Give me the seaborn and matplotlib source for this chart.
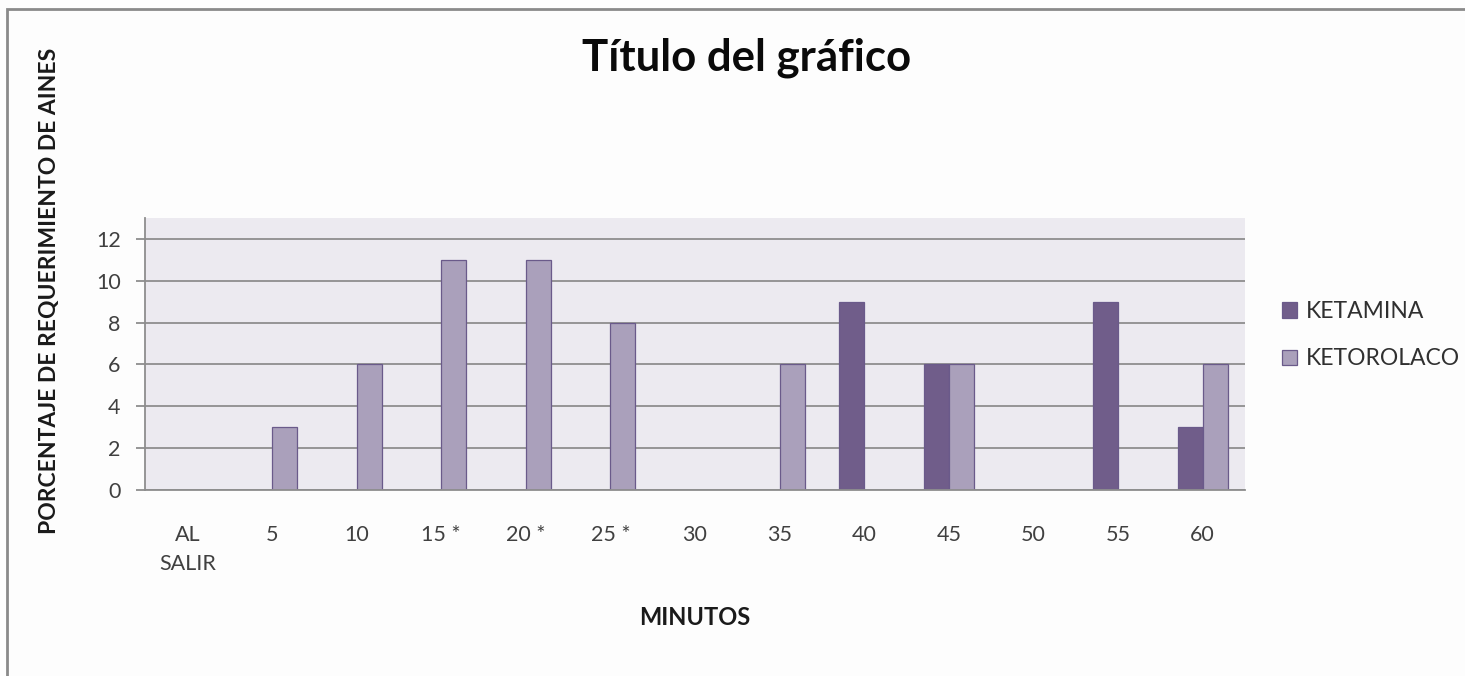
import matplotlib
matplotlib.use("Agg")
import matplotlib.pyplot as plt
from matplotlib.patches import Rectangle
import seaborn as sns
import pandas as pd

# Data
minutos = ["AL\nSALIR", "5", "10", "15 *", "20 *", "25 *", "30", "35",
           "40", "45", "50", "55", "60"]
ketamina = [0, 0, 0, 0, 0, 0, 0, 0, 9, 6, 0, 9, 3]
ketorolaco = [0, 3, 6, 11, 11, 8, 0, 6, 0, 6, 0, 0, 6]
grupos = ["KETAMINA", "KETOROLACO"]
y_ticks = [0, 2, 4, 6, 8, 10, 12]

df = pd.DataFrame({
    "minuto": minutos * 2,
    "valor": ketamina + ketorolaco,
    "grupo": [grupos[0]] * len(minutos) + [grupos[1]] * len(minutos),
})

sns.set_style("white")
plt.rcParams["font.family"] = ["Lato", "DejaVu Sans"]

W, H = 1465, 676
fig = plt.figure(figsize=(W / 100, H / 100), dpi=100, facecolor="#FDFDFD")
ax = fig.add_axes([145 / W, 1 - 490 / H, 1100 / W, 272 / H])
ax.set_facecolor("#ECEAF0")

palette = {"KETAMINA": "#6F5592", "KETOROLACO": "#A99BC0"}
sns.barplot(data=df, x="minuto", y="valor", hue="grupo", order=minutos,
            hue_order=grupos, palette=palette, width=0.59,
            edgecolor="#6A5A8A", linewidth=0.9, ax=ax, zorder=2)

ax.set_ylim(0, 13)
ax.set_xlim(-0.5, len(minutos) - 0.5)
ax.set_yticks(y_ticks)
ax.yaxis.grid(True, color="#8E8E8E", linewidth=1.3)
ax.set_axisbelow(True)

for side in ["top", "right"]:
    ax.spines[side].set_visible(False)
for side in ["left", "bottom"]:
    ax.spines[side].set_color("#8E8E8E")
    ax.spines[side].set_linewidth(1.3)

ax.tick_params(axis="y", which="major", length=6.5, width=1.3,
               color="#8E8E8E", left=True, pad=11, labelsize=15.5,
               labelcolor="#404040")
ax.tick_params(axis="x", length=0, pad=25, labelsize=15.5,
               labelcolor="#404040")
for lbl in ax.get_xticklabels():
    lbl.set_linespacing(1.55)

ax.set_xlabel("MINUTOS", fontsize=17, fontweight="bold", color="#1A1A1A")
ax.xaxis.set_label_coords((695 - 145) / 1100, -(606 - 490) / 272)
ax.set_ylabel("PORCENTAJE DE REQUERIMIENTO DE AINES", fontsize=16.5,
              fontweight="bold", color="#1A1A1A")
ax.yaxis.set_label_coords((60 - 145) / 1100, (490 - 291) / 272)

fig.text(747 / W, 1 - 70 / H, "Título del gráfico", fontsize=31.5,
         fontweight="bold", ha="center", va="baseline", color="#0A0A0A")

handles, labels = ax.get_legend_handles_labels()
ax.legend(handles, labels, loc="upper left", frameon=False,
          bbox_to_anchor=(1282 / W, 1 - 301 / H),
          bbox_transform=fig.transFigure, fontsize=16.5, labelcolor="#303030",
          handlelength=0.65, handleheight=0.65, handletextpad=0.4,
          labelspacing=1.15, borderpad=0, borderaxespad=0)

# Outer chart border
fig.patches.append(Rectangle((7 / W, -0.2), 1.2, 1 - 9 / H + 0.2,
                             transform=fig.transFigure, fill=False,
                             edgecolor="#8A8A8A", linewidth=2.0))

fig.savefig("out.png", dpi=100, facecolor=fig.get_facecolor())
